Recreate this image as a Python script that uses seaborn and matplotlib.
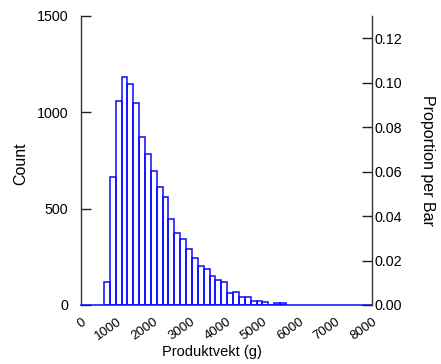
import numpy as np
import pandas as pd
import matplotlib
matplotlib.use("Agg")
import matplotlib.pyplot as plt
import seaborn as sns

# ---- data ----
bin_start = 630.0      # left edge of first bar (g)
bin_width = 161.4      # bar width (g)
counts = [121, 665, 1058, 1180, 1145, 1045, 872, 782, 694, 611, 561, 447,
          375, 342, 292, 245, 202, 186, 150, 130, 118, 64, 69, 43, 43,
          21, 21, 14, 2, 9, 9]
x_ticks = [0, 1000, 2000, 3000, 4000, 5000, 6000, 7000, 8000]
count_ticks = [0, 500, 1000, 1500]
prop_ticks = [0.00, 0.02, 0.04, 0.06, 0.08, 0.10, 0.12]
x_label = "Produktvekt (g)"
y_label = "Count"
y2_label = "Proportion per Bar"

edges = [float(e) for e in bin_start + bin_width * np.arange(len(counts) + 1)]
centers = [(a + b) / 2 for a, b in zip(edges[:-1], edges[1:])]
df = pd.DataFrame({"vekt": centers, "n": counts})
total = float(np.sum(counts))

sns.set_theme(style="white")
plt.rcParams["font.family"] = ["Liberation Sans", "DejaVu Sans"]
plt.rcParams["text.color"] = "black"
plt.rcParams["axes.labelcolor"] = "black"
plt.rcParams["xtick.color"] = "black"
plt.rcParams["ytick.color"] = "black"

fig = plt.figure(figsize=(4.41, 3.64), dpi=100)
ax = fig.add_axes([81 / 441, 1 - 305 / 364, (372 - 81) / 441, (305 - 15.7) / 364])

sns.histplot(data=df, x="vekt", weights="n", bins=edges, fill=False,
             element="bars", color="#0a0aff", linewidth=1.1, ax=ax)

ax.set_xlim(0, 8000)
ax.set_ylim(0, 1500)
ax.set_xticks(x_ticks)
ax.set_xticklabels([str(t) for t in x_ticks], rotation=35,
                   rotation_mode="anchor", ha="right", va="top", fontsize=9.5)
ax.set_yticks(count_ticks)
ax.set_yticklabels([str(t) for t in count_ticks], fontsize=10.3)
ax.tick_params(axis="x", direction="in", length=6.5, width=1, color="#222222", pad=8)
ax.tick_params(axis="y", direction="in", length=7, width=1, color="#222222", pad=9)

ax.spines["top"].set_visible(False)
ax.spines["right"].set_visible(False)
ax.spines["left"].set_color("#333333")
ax.spines["left"].set_linewidth(1)
ax.spines["bottom"].set_color("#0a0aff")
ax.spines["bottom"].set_linewidth(1.1)

ax.set_xlabel(x_label, fontsize=10.5)
ax.xaxis.set_label_coords(0.45, -0.138)
ax.set_ylabel(y_label, fontsize=11.5)
ax.yaxis.set_label_coords(-0.18, 0.49)

ax2 = ax.twinx()
ax2.set_ylim(0, 1500 / total)
ax2.set_yticks(prop_ticks)
ax2.set_yticklabels([f"{t:.2f}" for t in prop_ticks], fontsize=10.3)
ax2.tick_params(axis="y", direction="in", length=7, width=1, color="#222222", pad=2)
for side in ["top", "left", "bottom"]:
    ax2.spines[side].set_visible(False)
ax2.spines["right"].set_color("#333333")
ax2.spines["right"].set_linewidth(1)
ax2.set_ylabel(y2_label, fontsize=11.5, rotation=-90, va="center")
ax2.yaxis.set_label_coords(1.19, 0.5)
ax2.grid(False)
ax.grid(False)

fig.savefig("out.png", dpi=100)
